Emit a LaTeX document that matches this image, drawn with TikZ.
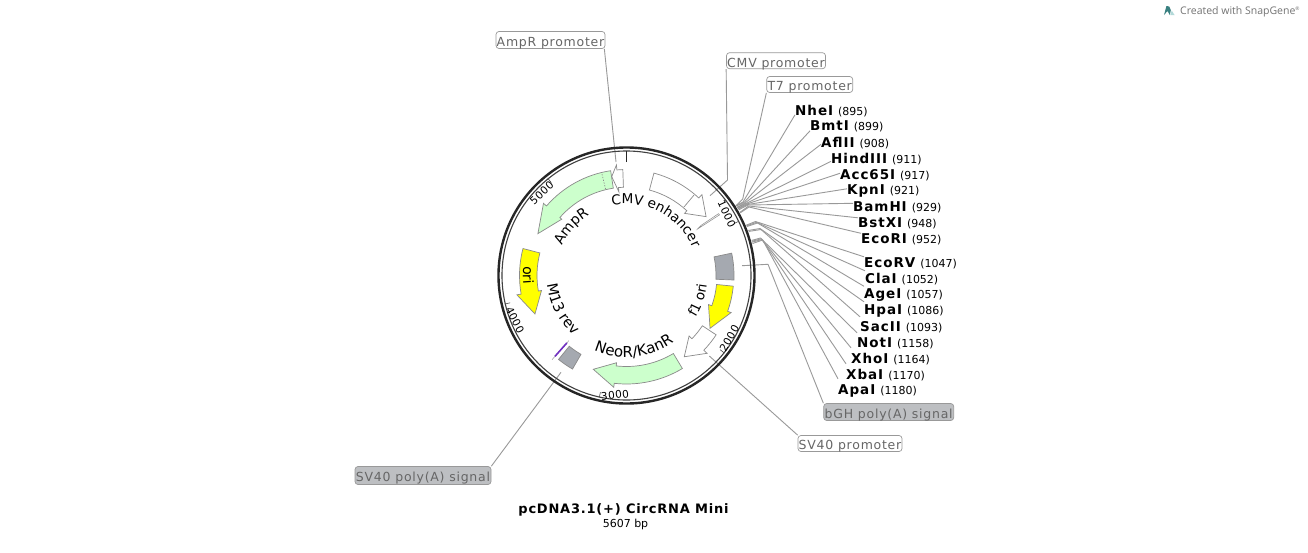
\documentclass[tikz,border=0pt]{standalone}
\usepackage{fontspec}
\setmainfont{DejaVu Sans}
\newfontfamily\lblfont[LetterSpace=6]{DejaVu Sans}
\newfontfamily\enzfont[LetterSpace=7]{DejaVu Sans Bold}
\newfontfamily\ttlfont[LetterSpace=6]{DejaVu Sans Bold}
\newfontfamily\tckfont[LetterSpace=4]{DejaVu Sans}
\newfontfamily\wmfont{Open Sans}
\usetikzlibrary{decorations.text}
\definecolor{leadc}{HTML}{999999}
\definecolor{edgec}{HTML}{8A8A8A}
\definecolor{labc}{HTML}{666666}
\definecolor{labfill}{HTML}{BDBFC2}
\definecolor{grnc}{HTML}{CCFFCC}
\definecolor{ylwc}{HTML}{FFFF00}
\definecolor{termc}{HTML}{A5A9B0}
\definecolor{purc}{HTML}{7030C0}
\tikzset{
  leader/.style={draw=leadc,line width=0.9pt,line join=round},
  featedge/.style={draw=edgec,line width=0.7pt,line join=miter},
  plabel/.style={draw=leadc,rounded corners=3pt,line width=0.7pt,inner sep=0pt,text=labc,
     font=\lblfont\fontsize{12.5pt}{14pt}\selectfont},
  enzlabel/.style={anchor=west,inner sep=0pt,text=black,font=\fontsize{11pt}{13pt}\selectfont},
  ticklab/.style={inner sep=0pt,text=black,font=\tckfont\fontsize{10.5pt}{12pt}\selectfont},
  tickline/.style={draw=black!70,line width=0.6pt},
}
\newcommand\arcfeat[9]{%
  \draw[featedge,#1] (#2:#6) arc[start angle=#2,end angle=#3,radius=#6] -- (#3:#8) -- (#4:#9)
    -- (#3:#7) -- (#3:#5) arc[start angle=#3,end angle=#2,radius=#5] -- cycle;}
\newcommand\arctext[5]{%
  \path[decorate,decoration={text along path,text align=center,text={|\fontsize{#5pt}{16pt}\selectfont|#1}}]
    (#2:#4) arc[start angle=#2,end angle=#3,radius=#4];}
\newcommand\enz[7]{%
  \node[enzlabel] (e#1) at (#3,#4+0.8) {{\enzfont\fontsize{13.5pt}{15pt}\selectfont #1}\hspace{5pt}(#2)};
  \coordinate (r#1) at ([shift={({90-#2/5607*360}:130pt)}]c);
  \draw[leader] (r#1) -- (#5,#6) -- ([yshift=#7pt]e#1.west);}
\newcommand\tickmark[5]{%
  \draw[tickline] (#1:119.5) -- (#1:125);
  \node[ticklab,rotate=#3] (t#2) at (#4,#5) {#2};}
\newcommand\boxtext[1]{\raisebox{-6.3pt}[0pt][0pt]{#1}}
\begin{document}
\begin{tikzpicture}[x=1pt,y=-1pt]
\useasboundingbox (0,0) rectangle (1308,552);
\fill[white] (0,0) rectangle (1308,552);
\coordinate (c) at (626.5,275.5);

% watermark
\fill[fill=teal!55!gray] (1164,15) -- (1166.4,6) -- (1169.2,6.5) -- (1170.8,10) -- (1169.8,15) -- (1167.5,11) -- cycle;
\fill[fill=teal!30!white] (1170.3,15) -- (1171.7,10.5) -- (1174.5,15) -- cycle;
\node[anchor=west,inner sep=0pt,text=black!55,font=\wmfont\fontsize{10.5pt}{12pt}\selectfont] (wm) at (1180,11.5) {Created with SnapGene\textsuperscript{\tiny ®}};

% label boxes
\node[plabel,minimum width=109pt,minimum height=17pt] (lAP) at (550.5,40) {\boxtext{AmpR promoter}};
\node[plabel,minimum width=99pt,minimum height=16pt] (lCMV) at (776,60.7) {\boxtext{CMV promoter}};
\node[plabel,minimum width=86pt,minimum height=16pt] (lT7) at (809.7,84.5) {\boxtext{T7 promoter}};
\node[plabel,fill=labfill,minimum width=130pt,minimum height=17pt] (lBGH) at (888.7,412) {\boxtext{bGH poly(A) signal}};
\node[plabel,minimum width=104pt,minimum height=16pt] (lSV) at (850,443.5) {\boxtext{SV40 promoter}};
\node[plabel,fill=labfill,minimum width=136pt,minimum height=18pt] (lSVA) at (423,475.5) {\boxtext{SV40 poly(A) signal}};

% leader lines of the features
\coordinate (aAP) at (616,162);
\draw[leader] (lAP.south east) ++(-1,0) coordinate (sAP) -- (aAP);
\coordinate (aCMV) at (710,195.7);
\coordinate (bCMV) at (727.5,180);
\draw[leader] (lCMV.south west) -- (bCMV) -- (aCMV);
\coordinate (aT7) at (735,206.7);
\coordinate (bT7) at (742.7,199);
\draw[leader] (lT7.south west) -- (bT7) -- (aT7);
\coordinate (aBGH) at (742,265.7);
\coordinate (bBGH) at (768,264.3);
\draw[leader] (lBGH.north west) -- (bBGH) -- (aBGH);
\coordinate (aSV) at (709.3,356);
\draw[leader] (lSV.north west) -- (aSV);
\coordinate (aSVA) at (561,372.3);
\draw[leader] (lSVA.north east) -- (aSVA);

% enzyme sites
\enz{NheI}{895}{795}{110}{743}{202}{-4}
\enz{BmtI}{899}{810}{126}{744}{202.5}{-4}
\enz{AflII}{908}{821}{142}{745}{203}{-1.5}
\enz{HindIII}{911}{831}{158}{746}{203.5}{-2.5}
\enz{Acc65I}{917}{840}{174}{746.8}{204}{1.5}
\enz{KpnI}{921}{847}{190}{747.5}{204.5}{2}
\enz{BamHI}{929}{853}{206}{748}{205}{3.5}
\enz{BstXI}{948}{858}{222}{748.7}{206}{5}
\enz{EcoRI}{952}{861}{238}{749}{207}{5.5}
\enz{EcoRV}{1047}{864}{262}{755.5}{221.5}{6}
\enz{ClaI}{1052}{865}{278}{756.5}{222.3}{8}
\enz{AgeI}{1057}{864}{294}{757.5}{223}{8.5}
\enz{HpaI}{1086}{864}{310}{760}{228.5}{9}
\enz{SacII}{1093}{860}{326}{761}{229.5}{10}
\enz{NotI}{1158}{857}{342}{760.5}{238}{10}
\enz{XhoI}{1164}{851}{358}{761.3}{238.8}{11}
\enz{XbaI}{1170}{846}{374}{762}{239.5}{11}
\enz{ApaI}{1180}{838}{390}{762.7}{240}{12}

% plasmid
\begin{scope}[shift={(626.5pt,-275.5pt)},y=1pt]
  \draw[draw=black!85,line width=2.4pt] (0,0) circle[radius=128];
  \draw[draw=black!75,line width=1.1pt] (0,0) circle[radius=124.5];
  \draw[draw=black!85,line width=1.4pt] (90:113.5) -- (90:125);

  \tickmark{25.8}{1000}{-65}{100.2}{61.7}
  \tickmark{-38.4}{2000}{60}{102.8}{-62.8}
  \tickmark{-102.6}{3000}{6}{-11.5}{-119.5}
  \tickmark{-166.8}{4000}{-63}{-111.5}{-44.5}
  \tickmark{-231}{5000}{43}{-84.8}{82.8}

  \arcfeat{fill=grnc}{98.6}{139}{154.7}{88.3}{106}{85.8}{110}{98}
  \draw[draw=black!45,line width=0.7pt,dash pattern=on 1.2pt off 1.6pt] (103.6:89) -- (103.6:105.5);
  \arcfeat{fill=white}{92}{95.2}{98.5}{88.3}{106}{84}{111}{100}
  \arcfeat{fill=white}{75}{47}{36.5}{88.5}{106}{85}{110.6}{99}
  \draw[featedge] (50:89.4) -- (50:105);
  \arcfeat{fill=ylwc}{165.4}{190}{202.8}{89.5}{107}{86.3}{111.3}{99.3}
  \arcfeat{fill=ylwc}{-5.7}{-19.5}{-32.3}{90.5}{107.3}{87}{111}{98.8}
  \arcfeat{fill=white}{-33.5}{-44}{-54.6}{91}{107.5}{87}{112}{99.7}
  \arcfeat{fill=grnc}{-59}{-96.5}{-109.5}{91}{108.5}{87.8}{112.5}{99.5}
  % T7 promoter
  \draw[featedge,fill=white,line width=0.5pt] (33.2:85) -- (33.9:90) -- (33.9:111) -- (33.1:111) -- cycle;
  % bGH poly(A) signal
  \draw[featedge,fill=termc] (12:107.5) arc[start angle=12,end angle=-2.4,radius=107.5]
     -- (-2.4:89.5) arc[start angle=-2.4,end angle=12,radius=89.5] -- cycle;
  % SV40 poly(A) signal
  \draw[featedge,fill=termc] (231:108) arc[start angle=231,end angle=240,radius=108]
     -- (240:91) arc[start angle=240,end angle=231,radius=91] -- cycle;
  % M13 rev
  \draw[draw=leadc,line width=0.5pt] (228.5:87) -- (228.5:112.3);
  \draw[draw=purc,line width=1.6pt] (228.5:90) -- (228.5:108);

  \arctext{CMV enhancer}{110}{14}{71.5}{13.6}
  \arctext{AmpR}{170}{107}{71}{14}
  \arctext{ori}{160}{200}{103.5}{14}
  \arctext{M13 rev}{170}{245}{80}{14.5}
  \arctext{NeoR/KanR}{-130}{-38}{82}{15}
  \arctext{f1 ori}{-50}{12}{81}{13.5}
\end{scope}

% title
\node[inner sep=0pt,text=black,font=\ttlfont\fontsize{13pt}{15pt}\selectfont] (title) at (623.5,510.3) {pcDNA3.1(+) CircRNA Mini};
\node[inner sep=0pt,text=black,font=\fontsize{11pt}{13pt}\selectfont] (size) at (625.5,524) {5607 bp};
\end{tikzpicture}
\end{document}
